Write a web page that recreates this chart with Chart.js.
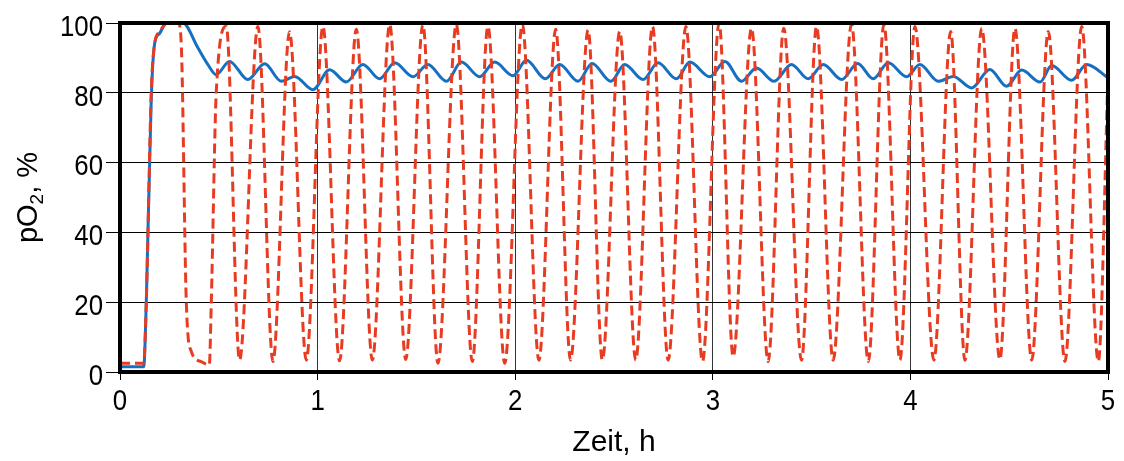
<!DOCTYPE html>
<html>
<head>
<meta charset="utf-8">
<script src="https://cdn.jsdelivr.net/npm/chart.js@4/dist/chart.umd.min.js"></script>
<style>
  html, body { margin: 0; padding: 0; background: #fff; }
  #wrap { width: 1124px; height: 461px; }
</style>
</head>
<body>
<div id="wrap"><canvas id="c" width="1124" height="461"></canvas></div>
<script>
// pO2 over time (h): controlled run (solid) and oscillating run (dashed)
const timeDashed = [0, 0.12, 0.133, 0.158, 0.175, 0.2, 0.225, 0.24, 0.295, 0.31, 0.335, 0.36, 0.41, 0.452, 0.462, 0.487,
  0.538, 0.605, 0.698, 0.774, 0.858, 0.943, 1.027, 1.111, 1.196, 1.277, 1.365, 1.446, 1.533, 1.609, 1.702, 1.783,
  1.862, 1.947, 2.036, 2.12, 2.205, 2.28, 2.369, 2.441, 2.529, 2.61, 2.695, 2.774, 2.864, 2.948, 3.032, 3.103,
  3.196, 3.28, 3.359, 3.449, 3.525, 3.609, 3.702, 3.787, 3.866, 3.947, 4.023, 4.119, 4.204, 4.276, 4.361, 4.453,
  4.529, 4.614, 4.698, 4.782, 4.867, 4.951, 5.0];
const pO2Dashed = [2.5, 2.5, 20, 80, 94, 97.5, 99.5, 100, 100, 94, 21, 6, 3, 2, 20, 80,
  99, 3.4, 99, 3, 97.5, 3.4, 99, 3.2, 98.2, 3.4, 99.6, 3.6, 99.6, 2.5, 99.6, 3,
  99, 2.5, 99.6, 3.4, 98.2, 3.4, 98, 3.4, 97.6, 3.4, 99, 3.4, 99, 3, 100, 4.4,
  98.5, 3, 98.5, 3.4, 99, 3.4, 99.6, 3, 99.6, 3.4, 99, 3.4, 97.6, 3.4, 98.5, 3.6,
  98.5, 3.4, 97.6, 3, 99, 3, 85];

const timeSolid = [0, 0.12, 0.133, 0.158, 0.175, 0.2, 0.225, 0.24, 0.318, 0.394, 0.445, 0.487,
  0.554, 0.647, 0.732, 0.816, 0.884, 0.976, 1.061, 1.145, 1.229, 1.314, 1.39, 1.483, 1.558, 1.652,
  1.728, 1.82, 1.896, 1.989, 2.057, 2.153, 2.225, 2.318, 2.389, 2.484, 2.554, 2.647, 2.723, 2.816,
  2.884, 2.985, 3.061, 3.145, 3.221, 3.31, 3.398, 3.483, 3.559, 3.652, 3.733, 3.812, 3.888, 3.981,
  4.048, 4.141, 4.217, 4.31, 4.402, 4.487, 4.563, 4.656, 4.715, 4.816, 4.892, 5.0];
const pO2Solid = [1.5, 1.5, 20, 78, 94, 97, 99.5, 100, 100, 92.9, 88.1, 85.2,
  89, 83.8, 88.3, 83.3, 84.7, 80.9, 86.6, 83.1, 88.1, 84.0, 88.6, 84.6, 88.1, 83.3,
  88.8, 84.6, 88.8, 84.9, 89.3, 84.0, 88.1, 83.3, 88.4, 83.3, 88.1, 83.8, 88.6, 84.0,
  88.8, 84.6, 89.0, 83.3, 87.1, 83.3, 88.1, 84.0, 88.1, 83.8, 88.4, 84.0, 88.6, 84.6,
  88.1, 83.3, 84.7, 81.4, 86.7, 81.9, 86.5, 83.1, 87.8, 83.6, 88.1, 84.3];

const xTicks = [0, 1, 2, 3, 4, 5];
const yTicks = [0, 20, 40, 60, 80, 100];
const xTitle = 'Zeit, h';
const yTitleParts = ['pO', '2', ', %'];   // main text, subscript, rest

const toPoints = (xs, ys) => xs.map((x, i) => ({ x: x, y: ys[i] }));

const FONT = "'Liberation Sans', Arial, sans-serif";
const TICK_SIZE = 30;
const NARROW = 0.86;   // horizontal squeeze for the tick numerals

// heavy black frame round the plot area
const framePlugin = {
  id: 'frame',
  afterDatasetsDraw(chart) {
    const a = chart.chartArea, ctx = chart.ctx;
    ctx.save();
    ctx.strokeStyle = '#000';
    ctx.lineWidth = 4;
    ctx.strokeRect(a.left, a.top, a.right - a.left, a.bottom - a.top);
    ctx.restore();
  }
};

// tick numerals (condensed) and axis titles
const labelPlugin = {
  id: 'labels',
  afterDraw(chart) {
    const ctx = chart.ctx;
    const xs = chart.scales.x, ys = chart.scales.y;
    const a = chart.chartArea;
    ctx.save();
    ctx.fillStyle = '#000';
    ctx.font = TICK_SIZE + 'px ' + FONT;
    ctx.textBaseline = 'alphabetic';

    ctx.textAlign = 'right';
    ys.ticks.forEach(t => {
      const py = ys.getPixelForValue(t.value);
      ctx.save();
      ctx.translate(a.left - 17, py + 0.358 * TICK_SIZE + 2);
      ctx.scale(NARROW, 1);
      ctx.fillText(String(t.value), 0, 0);
      ctx.restore();
    });

    ctx.textAlign = 'center';
    xs.ticks.forEach(t => {
      const px = xs.getPixelForValue(t.value);
      ctx.save();
      ctx.translate(px, a.bottom + 38);
      ctx.scale(NARROW, 1);
      ctx.fillText(String(t.value), 0, 0);
      ctx.restore();
    });

    // x title
    ctx.font = '30px ' + FONT;
    ctx.fillText(xTitle, (a.left + a.right) / 2, a.bottom + 79);

    // y title with subscript, rotated
    const big = '29px ' + FONT, small = '19px ' + FONT;
    ctx.font = big;  const w0 = ctx.measureText(yTitleParts[0]).width;
    ctx.font = small; const w1 = ctx.measureText(yTitleParts[1]).width;
    ctx.font = big;  const w2 = ctx.measureText(yTitleParts[2]).width;
    const total = w0 + w1 + w2;
    ctx.translate(37, (a.top + a.bottom) / 2);
    ctx.rotate(-Math.PI / 2);
    ctx.textAlign = 'left';
    let x = -total / 2;
    ctx.font = big;  ctx.fillText(yTitleParts[0], x, 0); x += w0;
    ctx.font = small; ctx.fillText(yTitleParts[1], x, 6); x += w1;
    ctx.font = big;  ctx.fillText(yTitleParts[2], x, 0);
    ctx.restore();
  }
};

new Chart(document.getElementById('c'), {
  type: 'line',
  data: {
    datasets: [
      {
        data: toPoints(timeDashed, pO2Dashed),
        borderColor: '#e83c22',
        borderWidth: 3,
        borderDash: [10, 5],
        pointRadius: 0,
        cubicInterpolationMode: 'monotone',
        fill: false,
        order: 0
      },
      {
        data: toPoints(timeSolid, pO2Solid),
        borderColor: '#1670c2',
        borderWidth: 3,
        pointRadius: 0,
        cubicInterpolationMode: 'monotone',
        fill: false,
        order: 1
      }
    ]
  },
  options: {
    responsive: false,
    animation: false,
    events: [],
    layout: { padding: { top: 23, right: 16, left: 0, bottom: 0 } },
    plugins: { legend: { display: false }, tooltip: { enabled: false } },
    scales: {
      x: {
        type: 'linear',
        min: 0, max: 5,
        afterBuildTicks(s) { s.ticks = xTicks.map(v => ({ value: v })); },
        afterFit(s) { s.height = 89; },
        grid: { color: '#333', lineWidth: 1, tickLength: 8, tickColor: '#000', drawTicks: true },
        border: { display: false },
        ticks: { display: false }
      },
      y: {
        type: 'linear',
        min: 0, max: 100,
        afterBuildTicks(s) { s.ticks = yTicks.map(v => ({ value: v })); },
        afterFit(s) { s.width = 120; },
        grid: { color: '#000', lineWidth: 1, tickLength: 14, tickColor: '#000', drawTicks: true },
        border: { display: false },
        ticks: { display: false }
      }
    }
  },
  plugins: [framePlugin, labelPlugin]
});
</script>
</body>
</html>
